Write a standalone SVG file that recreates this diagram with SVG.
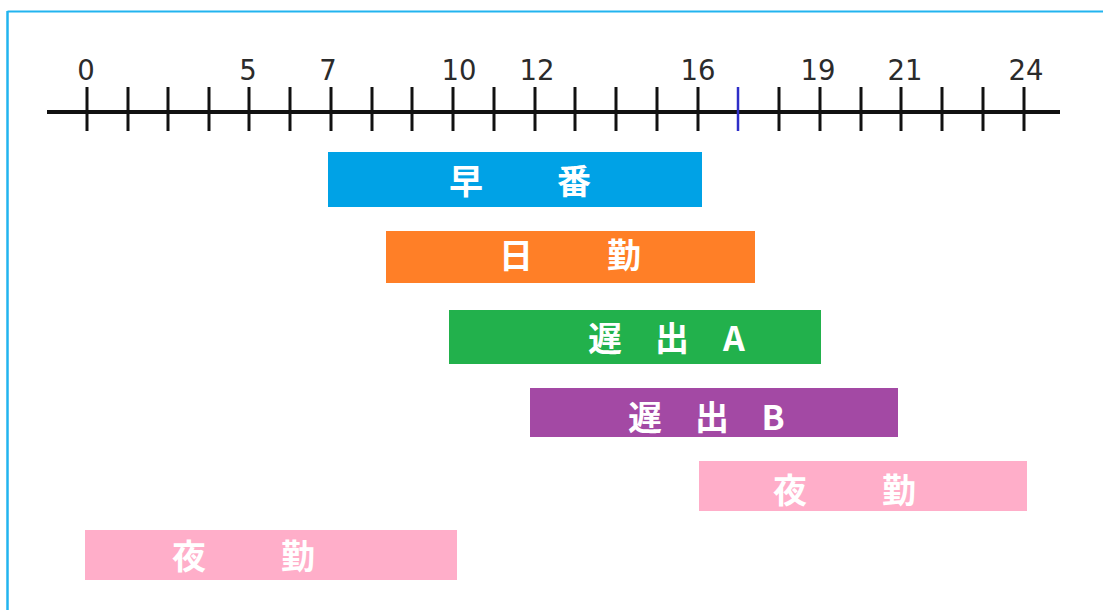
<svg xmlns="http://www.w3.org/2000/svg" width="1103" height="610" viewBox="0 0 1103 610">
<style>
.num{font-family:"DejaVu Sans","Verdana",sans-serif;font-size:27.5px;fill:#2b2b2b;text-anchor:middle}
.lbl{font-family:"Noto Sans CJK JP","Noto Sans CJK SC",sans-serif;font-size:34px;font-weight:bold;fill:#ffffff;text-anchor:middle}
.tick{stroke:#111;stroke-width:3}
</style>
<rect x="0" y="0" width="1103" height="610" fill="#ffffff"/>
<g id="frame">
<line x1="7.5" y1="11.5" x2="1103" y2="11.5" stroke="#22b4ef" stroke-width="2"/>
<line x1="7.5" y1="11" x2="7.5" y2="610" stroke="#22b4ef" stroke-width="2.5"/>
</g>
<g id="axis">
<line x1="47" y1="112" x2="1060" y2="112" stroke="#111" stroke-width="4"/>
<g class="ticks">
<line class="tick" x1="87" y1="87" x2="87" y2="131"/>
<line class="tick" x1="128" y1="87" x2="128" y2="131"/>
<line class="tick" x1="168" y1="87" x2="168" y2="131"/>
<line class="tick" x1="209" y1="87" x2="209" y2="131"/>
<line class="tick" x1="249" y1="87" x2="249" y2="131"/>
<line class="tick" x1="290" y1="87" x2="290" y2="131"/>
<line class="tick" x1="331" y1="87" x2="331" y2="131"/>
<line class="tick" x1="372" y1="87" x2="372" y2="131"/>
<line class="tick" x1="412" y1="87" x2="412" y2="131"/>
<line class="tick" x1="453" y1="87" x2="453" y2="131"/>
<line class="tick" x1="494" y1="87" x2="494" y2="131"/>
<line class="tick" x1="535" y1="87" x2="535" y2="131"/>
<line class="tick" x1="575" y1="87" x2="575" y2="131"/>
<line class="tick" x1="616" y1="87" x2="616" y2="131"/>
<line class="tick" x1="657" y1="87" x2="657" y2="131"/>
<line class="tick" x1="698" y1="87" x2="698" y2="131"/>
<line x1="738" y1="87" x2="738" y2="131" stroke="#2e2ec8" stroke-width="2.5"/>
<line class="tick" x1="779" y1="87" x2="779" y2="131"/>
<line class="tick" x1="820" y1="87" x2="820" y2="131"/>
<line class="tick" x1="861" y1="87" x2="861" y2="131"/>
<line class="tick" x1="901" y1="87" x2="901" y2="131"/>
<line class="tick" x1="942" y1="87" x2="942" y2="131"/>
<line class="tick" x1="983" y1="87" x2="983" y2="131"/>
<line class="tick" x1="1024" y1="87" x2="1024" y2="131"/>
</g>
<text class="num" x="86" y="80">0</text>
<text class="num" x="248" y="80">5</text>
<text class="num" x="328" y="80">7</text>
<text class="num" x="459" y="80">10</text>
<text class="num" x="537" y="80">12</text>
<text class="num" x="698" y="80">16</text>
<text class="num" x="818" y="80">19</text>
<text class="num" x="905" y="80">21</text>
<text class="num" x="1026" y="80">24</text>
</g>
<g id="hayaban">
<rect x="328" y="152" width="374" height="55" fill="#00a2e6"/>
<text class="lbl" y="194"><tspan x="466">早</tspan><tspan x="574">番</tspan></text>
</g>
<g id="nikkin">
<rect x="386" y="231" width="369" height="52" fill="#ff7f27"/>
<text class="lbl" y="268"><tspan x="516">日</tspan><tspan x="624">勤</tspan></text>
</g>
<g id="osodeA">
<rect x="449" y="310" width="372" height="54" fill="#22b14c"/>
<text class="lbl" y="351"><tspan x="605">遅</tspan><tspan x="672">出</tspan><tspan x="734">A</tspan></text>
</g>
<g id="osodeB">
<rect x="530" y="388" width="368" height="49" fill="#a349a4"/>
<text class="lbl" y="430"><tspan x="645">遅</tspan><tspan x="712">出</tspan><tspan x="773">B</tspan></text>
</g>
<g id="yakin-right">
<rect x="699" y="461" width="328" height="50" fill="#ffaec9"/>
<text class="lbl" y="503"><tspan x="790">夜</tspan><tspan x="899">勤</tspan></text>
</g>
<g id="yakin-left">
<rect x="85" y="530" width="372" height="50" fill="#ffaec9"/>
<text class="lbl" y="569"><tspan x="189">夜</tspan><tspan x="298">勤</tspan></text>
</g>
</svg>
